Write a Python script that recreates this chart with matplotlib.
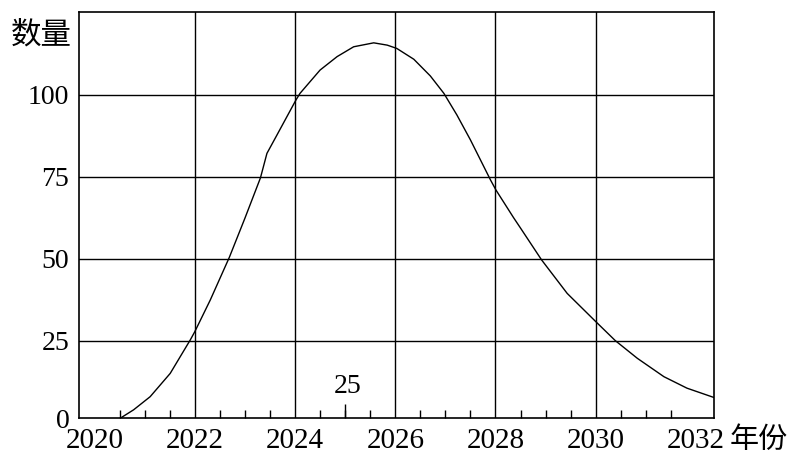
import matplotlib
matplotlib.use("Agg")
import matplotlib.pyplot as plt
import numpy as np

plt.rcParams['font.family'] = ['Liberation Serif', 'Noto Sans CJK SC', 'DejaVu Sans']

# 曲线数据
years = [2020.51, 2020.78, 2021.11, 2021.51, 2021.91, 2022.0, 2022.31, 2022.69, 2023.0,
         2023.31, 2023.44, 2023.64, 2024.02, 2024.1, 2024.5, 2024.84, 2025.17, 2025.57,
         2025.84, 2026.03, 2026.37, 2026.7, 2026.97, 2027.23, 2027.5, 2027.7, 2027.9,
         2028.01, 2028.36, 2028.5, 2028.92, 2029.43, 2030.0, 2030.39, 2030.83, 2031.36,
         2031.82, 2032.35]
values = [1.4, 4.0, 8.0, 15.1, 25.3, 27.8, 37.5, 50.5, 62.4,
          74.7, 82.2, 87.8, 98.5, 100.5, 107.6, 111.7, 114.7, 115.9,
          115.2, 114.2, 110.9, 105.8, 100.5, 93.9, 86.3, 80.2, 74.1,
          71.0, 62.6, 59.4, 49.7, 39.5, 30.9, 25.1, 19.7, 14.1,
          10.6, 7.8]

x_labels = [2020, 2022, 2024, 2026, 2028, 2030, 2032]
x_grid = [2022, 2024, 2026, 2028, 2030]
y_labels = ['0', '25', '50', '75', '100']
y_grid = [25, 50, 75, 100]
note_text = '25'

fig = plt.figure(figsize=(8.01, 4.55), dpi=100)
ax = fig.add_axes([0.0986, 0.0813, 0.7922, 0.8923])

ax.plot(years, values, color='black', lw=1.0, solid_joinstyle='round')

for g in x_grid:
    ax.axvline(g, color='black', lw=1.0, zorder=0)
for g in y_grid:
    ax.axhline(g, color='black', lw=1.0, zorder=0)

ax.set_xlim(2019.69, 2032.35)
ax.set_ylim(1.5, 125.3)

ax.set_xticks(x_labels)
ax.set_xticklabels([str(v) for v in x_labels], fontsize=21)
ax.set_yticks([1.5] + y_grid)
ax.set_yticklabels(y_labels, fontsize=20)
ax.tick_params(axis='both', which='major', length=0)
ax.tick_params(axis='x', which='major', pad=7)
ax.tick_params(axis='y', which='major', pad=7)

minor = [v for v in np.arange(2020.5, 2032, 0.5) if not (v in x_grid)]
ax.set_xticks(minor, minor=True)
ax.tick_params(axis='x', which='minor', direction='in', length=6, width=1.0)

# 2025 处较长的刻度和标注
ax.vlines(2025, 0, 0.035, transform=ax.get_xaxis_transform(), color='black', lw=1.0)
ax.text(2025.05, 11, note_text, fontsize=20, ha='center', va='center')

for s in ax.spines.values():
    s.set_linewidth(1.2)

fig.text(0.052, 0.923, '数量', fontsize=22, ha='center', va='center',
         family=['Noto Sans CJK SC'])
fig.text(0.947, 0.032, '年份', fontsize=21, ha='center', va='center',
         family=['Noto Sans CJK SC'])

fig.savefig('out.png', dpi=100)
